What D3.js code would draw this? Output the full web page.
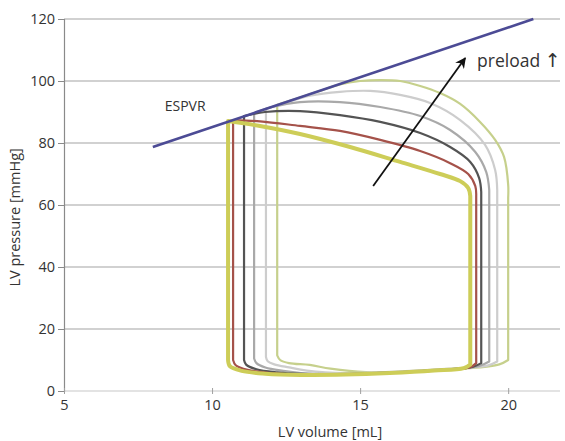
<!DOCTYPE html>
<html>
<head>
<meta charset="utf-8">
<script src="https://cdn.jsdelivr.net/npm/d3@7"></script>
<style>
  body { margin: 0; background: #fff; }
  text { font-family: "Open Sans", "Noto Sans", sans-serif; fill: #333; }
</style>
</head>
<body>
<script>
// axis ticks
const xTicks = [5, 10, 15, 20];
const yTicks = [0, 20, 40, 60, 80, 100, 120];

// end-systolic pressure-volume relation [volume, pressure]
const espvr = [[8.0, 78.7], [20.85, 120]];

// preload arrow [volume, pressure]
const arrowPts = [[15.44, 66.1], [18.55, 107.4]];

// PV loops, smallest preload first
// top: from end-systole (on ESPVR) back through ejection to end-diastole
const loopTops = [
  [[10.54, 87.1], [11.62, 85.5], [12.97, 82.9], [14.66, 78.7], [16.35, 73.9], [17.70, 70.0], [18.38, 67.7], [18.65, 65.5], [18.72, 62.9]],
  [[10.71, 87.4], [11.62, 87.0], [12.97, 85.5], [14.32, 83.9], [15.68, 81.0], [17.03, 77.4], [18.04, 73.5], [18.65, 70.0], [18.89, 66.1], [18.92, 62.9]],
  [[11.08, 88.7], [11.79, 90.0], [12.97, 90.3], [14.32, 89.0], [15.68, 86.8], [17.03, 83.2], [18.04, 78.7], [18.72, 73.9], [19.02, 68.7], [19.09, 64.2]],
  [[11.42, 89.7], [12.03, 91.6], [12.97, 93.2], [14.32, 93.2], [15.68, 91.6], [17.03, 88.7], [18.04, 84.2], [18.89, 77.1], [19.26, 70.6], [19.36, 64.8]],
  [[11.82, 91.0], [12.47, 93.0], [13.31, 95.3], [14.32, 96.5], [15.34, 96.8], [16.35, 95.5], [17.36, 92.9], [18.38, 87.4], [19.22, 79.4], [19.56, 71.3], [19.63, 64.8]],
  [[12.20, 92.3], [12.97, 94.7], [13.65, 96.8], [14.32, 98.9], [15.00, 100.0], [15.68, 100.3], [16.35, 100.0], [17.03, 98.4], [17.70, 96.1], [18.38, 92.6], [19.05, 86.8], [19.56, 81.0], [19.86, 75.5], [20.00, 66.5], [20.00, 62.3]]
];
// bottom: filling, from end-diastole back to end-systolic volume
const loopBottoms = [
  [[18.72, 8.5], [18.5, 7.4], [17.5, 6.6], [16.0, 5.8], [14.5, 5.3], [13.0, 5.2], [11.8, 5.6], [11.0, 6.5], [10.6, 8.0], [10.54, 10.0]],
  [[18.92, 9.0], [18.7, 7.6], [17.5, 6.6], [16.0, 5.8], [14.5, 5.3], [13.0, 5.3], [12.0, 5.8], [11.2, 6.8], [10.8, 8.3], [10.71, 10.0]],
  [[19.09, 9.0], [18.8, 7.8], [17.5, 6.7], [16.0, 5.9], [14.5, 5.4], [13.0, 5.5], [12.2, 6.0], [11.5, 7.0], [11.15, 8.5], [11.08, 10.0]],
  [[19.36, 9.5], [19.0, 8.0], [17.5, 6.8], [16.0, 6.0], [14.5, 5.5], [13.0, 5.8], [12.4, 6.5], [11.8, 7.6], [11.5, 9.0], [11.42, 10.5]],
  [[19.63, 9.5], [19.3, 8.2], [18.0, 7.2], [16.0, 6.2], [14.5, 5.8], [13.2, 6.6], [12.6, 7.6], [12.1, 8.6], [11.88, 9.6], [11.82, 11.0]],
  [[20.00, 10.0], [19.7, 8.6], [18.5, 7.2], [16.5, 6.2], [15.2, 6.1], [14.0, 7.2], [13.3, 8.4], [12.6, 9.0], [12.3, 10.0], [12.20, 11.5]]
];

const loopColors = ["#cdcd58", "#a5524a", "#545454", "#a9a9a9", "#cdcdcd", "#c6d08c"];
const loopWidths = [4, 2.2, 2.2, 2.2, 2.2, 2.2];

const width = 565, height = 441;
const x = d3.scaleLinear().domain([5, 21.75]).range([64, 560]);
const y = d3.scaleLinear().domain([0, 120]).range([391, 19]);

const svg = d3.select("body").append("svg")
    .attr("width", width)
    .attr("height", height);

// grid
svg.append("g")
  .selectAll("line")
  .data(yTicks)
  .join("line")
    .attr("x1", x(5))
    .attr("x2", x.range()[1])
    .attr("y1", d => y(d))
    .attr("y2", d => y(d))
    .attr("stroke", d => d === 0 ? "#c8c8c8" : "#a4a4a4")
    .attr("stroke-width", 1.2);

// y axis
const yAxis = svg.append("g")
    .attr("transform", `translate(${x(5)},0)`)
    .call(d3.axisLeft(y).tickValues(yTicks).tickSize(6).tickPadding(3));
yAxis.select(".domain").attr("stroke", "#8a8a8a").attr("stroke-width", 1.2);
yAxis.selectAll(".tick line").attr("stroke", "#8a8a8a");
yAxis.selectAll(".tick text").attr("font-size", 14.5).attr("fill", "#333")
    .attr("font-family", "'Open Sans', sans-serif");

// x axis
const xAxis = svg.append("g")
    .attr("transform", `translate(0,${y(0) - 3})`)
    .call(d3.axisBottom(x).tickValues(xTicks).tickSize(6).tickPadding(6));
xAxis.select(".domain").remove();
xAxis.selectAll(".tick line").attr("stroke", "#a0a0a0");
xAxis.selectAll(".tick text").attr("font-size", 14.5).attr("fill", "#333")
    .attr("font-family", "'Open Sans', sans-serif");

// axis titles
svg.append("text")
    .attr("x", 330)
    .attr("y", 437)
    .attr("text-anchor", "middle")
    .attr("font-size", 14.5)
    .text("LV volume [mL]");

svg.append("text")
    .attr("transform", `translate(20,${y(56)}) rotate(-90)`)
    .attr("text-anchor", "middle")
    .attr("font-size", 14.5)
    .text("LV pressure [mmHg]");

// loops
const topLine = d3.line()
    .x(d => x(d[0]))
    .y(d => y(d[1]))
    .curve(d3.curveCatmullRom.alpha(0.5));

svg.append("g")
    .attr("fill", "none")
    .attr("stroke-linejoin", "round")
  .selectAll("path")
  .data(d3.range(loopTops.length).reverse())
  .join("path")
    .attr("stroke", i => loopColors[i])
    .attr("stroke-width", i => loopWidths[i])
    .attr("d", i => topLine(loopTops[i]) + topLine(loopBottoms[i]).replace(/^M/, "L") + "Z");

// ESPVR
svg.append("line")
    .attr("x1", x(espvr[0][0]))
    .attr("y1", y(espvr[0][1]))
    .attr("x2", x(espvr[1][0]))
    .attr("y2", y(espvr[1][1]))
    .attr("stroke", "#4c4b95")
    .attr("stroke-width", 2.6);

svg.append("text")
    .attr("x", x(8.4))
    .attr("y", y(90.4))
    .attr("font-size", 14)
    .text("ESPVR");

// preload arrow
svg.append("defs").append("marker")
    .attr("id", "head")
    .attr("viewBox", "0 0 10 10")
    .attr("refX", 9)
    .attr("refY", 5)
    .attr("markerWidth", 6)
    .attr("markerHeight", 6)
    .attr("orient", "auto")
  .append("path")
    .attr("d", "M0,0L10,5L0,10L3,5Z")
    .attr("fill", "#111");

svg.append("line")
    .attr("x1", x(arrowPts[0][0]))
    .attr("y1", y(arrowPts[0][1]))
    .attr("x2", x(arrowPts[1][0]))
    .attr("y2", y(arrowPts[1][1]))
    .attr("stroke", "#111")
    .attr("stroke-width", 1.8)
    .attr("marker-end", "url(#head)");

const pre = svg.append("text")
    .attr("x", x(18.95))
    .attr("y", y(104.5))
    .attr("font-size", 17.5);
pre.append("tspan").text("preload ");
pre.append("tspan")
    .attr("font-family", "'DejaVu Sans', sans-serif")
    .attr("font-size", 19)
    .text("↑");
</script>
</body>
</html>
